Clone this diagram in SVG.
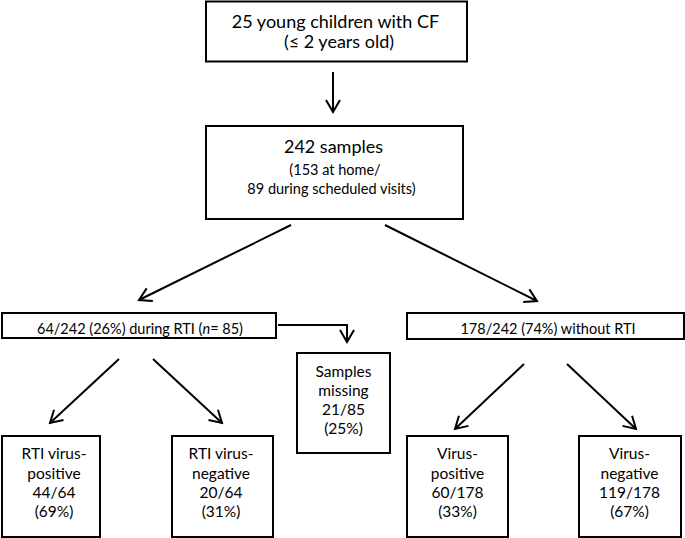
<svg xmlns="http://www.w3.org/2000/svg" width="685" height="538" viewBox="0 0 685 538">
<defs>
<style>
.box{fill:#fff;stroke:#000;stroke-width:2}
text{font-family:Lato,"Open Sans","Liberation Sans",sans-serif;fill:#000;text-anchor:middle}
.t1{font-size:18px}
.t2{font-size:14.5px}
.t3{font-size:15.5px}
.con{fill:none;stroke:#000;stroke-width:2}
</style>
<marker id="arr" markerUnits="userSpaceOnUse" markerWidth="20" markerHeight="20" viewBox="-14 -10 16 20" refX="0" refY="0" orient="auto">
<path d="M-12,-7 L0,0 L-12,7" fill="none" stroke="#000" stroke-width="2"/>
</marker>
</defs>
<rect width="685" height="538" fill="#fff"/>
<g id="connectors">
<line class="con" x1="333" y1="72" x2="333" y2="112" marker-end="url(#arr)"/>
<line class="con" x1="291" y1="225" x2="139" y2="300" marker-end="url(#arr)"/>
<line class="con" x1="385" y1="225" x2="537" y2="301" marker-end="url(#arr)"/>
<polyline class="con" points="278,325 347,325 347,342" marker-end="url(#arr)"/>
<line class="con" x1="119" y1="359" x2="50" y2="423" marker-end="url(#arr)"/>
<line class="con" x1="153" y1="359" x2="222" y2="423" marker-end="url(#arr)"/>
<line class="con" x1="524" y1="364" x2="455" y2="429" marker-end="url(#arr)"/>
<line class="con" x1="567" y1="364" x2="636" y2="429" marker-end="url(#arr)"/>
</g>
<g id="children">
<rect class="box" x="206" y="1.5" width="261" height="60"/>
<text class="t1" x="335.5" y="28">25 young children with CF</text>
<text class="t1" x="339" y="48">(≤ 2 years old)</text>
</g>
<g id="samples">
<rect class="box" x="206" y="126" width="257" height="93"/>
<text class="t1" x="333.5" y="153">242 samples</text>
<text class="t2" x="335" y="175">(153 at home/</text>
<text class="t2" x="331.5" y="194">89 during scheduled visits)</text>
</g>
<g id="during-rti">
<rect class="box" x="2" y="313" width="274" height="25"/>
<text class="t2" x="140" y="334">64/242 (26%) during RTI (<tspan font-style="italic">n</tspan>= 85)</text>
</g>
<g id="missing">
<rect class="box" x="297" y="353" width="93" height="100"/>
<text class="t3" x="343.5" y="377">Samples</text>
<text class="t3" x="343.5" y="396">missing</text>
<text class="t3" x="343.5" y="415">21/85</text>
<text class="t3" x="343.5" y="434">(25%)</text>
</g>
<g id="without-rti">
<rect class="box" x="407" y="313" width="277" height="26"/>
<text class="t2" x="548" y="334">178/242 (74%) without RTI</text>
</g>
<g id="rti-pos">
<rect class="box" x="2" y="436" width="98" height="101"/>
<text class="t3" x="54" y="459">RTI virus-</text>
<text class="t3" x="54" y="479">positive</text>
<text class="t3" x="54" y="498">44/64</text>
<text class="t3" x="54" y="517">(69%)</text>
</g>
<g id="rti-neg">
<rect class="box" x="172" y="436" width="101" height="101"/>
<text class="t3" x="221" y="459">RTI virus-</text>
<text class="t3" x="221" y="479">negative</text>
<text class="t3" x="221" y="498">20/64</text>
<text class="t3" x="221" y="517">(31%)</text>
</g>
<g id="virus-pos">
<rect class="box" x="407" y="436" width="101" height="101"/>
<text class="t3" x="457.5" y="459">Virus-</text>
<text class="t3" x="457.5" y="479">positive</text>
<text class="t3" x="457.5" y="498">60/178</text>
<text class="t3" x="457.5" y="517">(33%)</text>
</g>
<g id="virus-neg">
<rect class="box" x="579" y="436" width="102" height="101"/>
<text class="t3" x="629.5" y="459">Virus-</text>
<text class="t3" x="629.5" y="479">negative</text>
<text class="t3" x="629.5" y="498">119/178</text>
<text class="t3" x="629.5" y="517">(67%)</text>
</g>
</svg>
